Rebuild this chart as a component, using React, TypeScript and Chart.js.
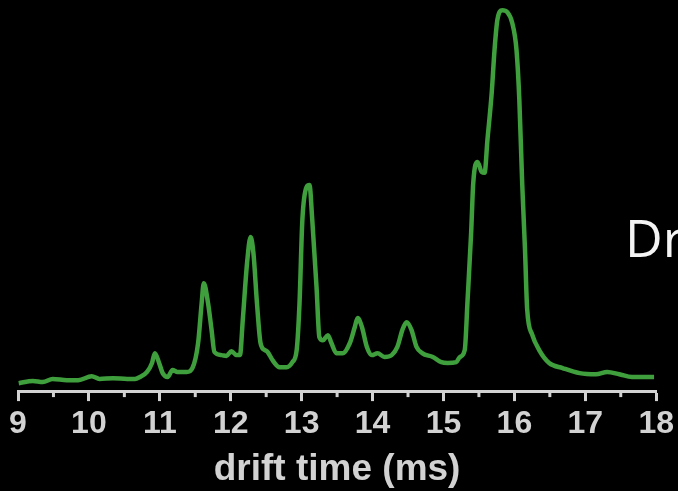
import React, { useEffect, useRef } from "react";
import { Chart, registerables } from "chart.js";

Chart.register(...registerables);

// drift time (ms)
const driftTime: number[] = [
  9.01, 9.21, 9.35, 9.49, 9.69, 9.85, 10.04, 10.15, 10.34, 10.54, 10.65, 10.72,
  10.82, 10.89, 10.93, 10.99, 11.04, 11.11, 11.18, 11.25, 11.38, 11.46, 11.54,
  11.59, 11.62, 11.68, 11.73, 11.77, 11.87, 11.94, 12.01, 12.08, 12.13, 12.17,
  12.23, 12.28, 12.32, 12.37, 12.42, 12.48, 12.52, 12.59, 12.69, 12.79, 12.87,
  12.93, 12.97, 13.01, 13.07, 13.11, 13.15, 13.21, 13.25, 13.3, 13.37, 13.42,
  13.49, 13.58, 13.68, 13.75, 13.79, 13.85, 13.92, 13.99, 14.07, 14.17, 14.27,
  14.35, 14.42, 14.48, 14.55, 14.62, 14.7, 14.85, 14.97, 15.06, 15.18, 15.23,
  15.3, 15.34, 15.39, 15.42, 15.48, 15.54, 15.58, 15.62, 15.68, 15.72, 15.76,
  15.83, 15.9, 15.97, 16.03, 16.07, 16.11, 16.15, 16.18, 16.25, 16.35, 16.49,
  16.68, 16.92, 17.15, 17.31, 17.48, 17.66, 17.8, 17.97,
];

// relative intensity
const intensity: number[] = [
  2.0, 2.6, 2.3, 3.1, 2.8, 2.8, 3.8, 3.1, 3.3, 3.1, 3.1, 3.6,
  4.9, 7.2, 9.7, 7.2, 4.6, 3.6, 5.4, 4.9, 4.9, 5.9, 12.3,
  22.5, 27.6, 22.5, 15.6, 10.0, 9.2, 9.0, 10.2, 9.2, 9.2, 18.2,
  32.7, 39.4, 35.3, 22.5, 12.3, 10.5, 10.0, 7.9, 6.1, 6.1, 7.4,
  10.5, 22.5, 43.7, 52.2, 52.7, 43.7, 26.6, 13.8, 13.0, 14.3, 12.3,
  9.7, 9.7, 12.3, 16.4, 18.7, 16.4, 11.3, 9.2, 9.7, 8.7, 9.2,
  11.3, 15.6, 17.6, 15.6, 11.3, 9.7, 8.7, 7.4, 7.2, 7.4, 8.7,
  10.5, 23.3, 40.4, 53.2, 58.6, 56.0, 55.8, 64.2, 76.2, 87.2, 94.9,
  97.4, 96.9, 94.1, 87.2, 74.4, 53.2, 36.1, 21.0, 14.5, 10.5, 7.2,
  5.9, 4.6, 4.3, 4.9, 4.3, 3.6, 3.6, 3.6,
];

const majorTicks: number[] = [9, 10, 11, 12, 13, 14, 15, 16, 17, 18];
const minorTicks: number[] = [9.5, 10.5, 11.5, 12.5, 13.5, 14.5, 15.5, 16.5, 17.5];

const AXIS_COLOR = "#d2d2d2";
const LINE_COLOR = "#3f9f3c";

const minorTickPlugin = {
  id: "minorTicks",
  afterDraw(chart: any) {
    const scale = chart.scales.x;
    const ctx = chart.ctx;
    const bottom = chart.chartArea.bottom;
    ctx.save();
    ctx.strokeStyle = AXIS_COLOR;
    ctx.lineWidth = 3;
    minorTicks.forEach((v) => {
      const px = scale.getPixelForValue(v);
      ctx.beginPath();
      ctx.moveTo(px, bottom);
      ctx.lineTo(px, bottom + 6);
      ctx.stroke();
    });
    ctx.restore();
  },
};

export default function App() {
  const canvasRef = useRef<HTMLCanvasElement | null>(null);

  useEffect(() => {
    document.body.style.margin = "0";
    document.body.style.background = "#000";
    const canvas = canvasRef.current;
    if (!canvas) return;
    const points = driftTime.map((t, i) => ({ x: t, y: intensity[i] }));
    const chart = new Chart(canvas, {
      type: "line",
      data: {
        datasets: [
          {
            data: points,
            borderColor: LINE_COLOR,
            borderWidth: 4.5,
            pointRadius: 0,
            fill: false,
            cubicInterpolationMode: "monotone",
          },
        ],
      },
      options: {
        animation: false,
        responsive: false,
        maintainAspectRatio: false,
        layout: { padding: { left: 18, right: 21, top: 0, bottom: 0.5 } },
        plugins: {
          legend: { display: false },
          tooltip: { enabled: false },
        },
        scales: {
          x: {
            type: "linear",
            min: 9,
            max: 18,
            afterBuildTicks: (scale: any) => {
              scale.ticks = majorTicks.map((v) => ({ value: v }));
            },
            grid: {
              display: true,
              drawOnChartArea: false,
              drawTicks: true,
              tickLength: 10,
              tickWidth: 3,
              tickColor: AXIS_COLOR,
            },
            border: { display: true, color: AXIS_COLOR, width: 3 },
            ticks: {
              color: AXIS_COLOR,
              padding: 4,
              maxRotation: 0,
              autoSkip: false,
              font: { family: "Liberation Sans", size: 32, weight: "bold" },
            },
            title: {
              display: true,
              text: "drift time (ms)",
              color: AXIS_COLOR,
              padding: { top: 4, bottom: 2 },
              font: { family: "Liberation Sans", size: 37, weight: "bold", lineHeight: 1 },
            },
          },
          y: { display: false, min: 0, max: 100 },
        },
      },
      plugins: [minorTickPlugin],
    } as any);
    return () => chart.destroy();
  }, []);

  return (
    <div
      style={{
        position: "fixed",
        left: 0,
        top: 0,
        width: 678,
        height: 491,
        background: "#000",
        overflow: "hidden",
      }}
    >
      <canvas ref={canvasRef} width={678} height={491} style={{ display: "block" }} />
      <div
        style={{
          position: "absolute",
          left: 625,
          top: 200,
          color: "#f4f4f4",
          fontFamily: "'Open Sans', sans-serif",
          fontSize: 52,
          lineHeight: "74px",
          whiteSpace: "nowrap",
        }}
      >
        Drift time
      </div>
    </div>
  );
}
